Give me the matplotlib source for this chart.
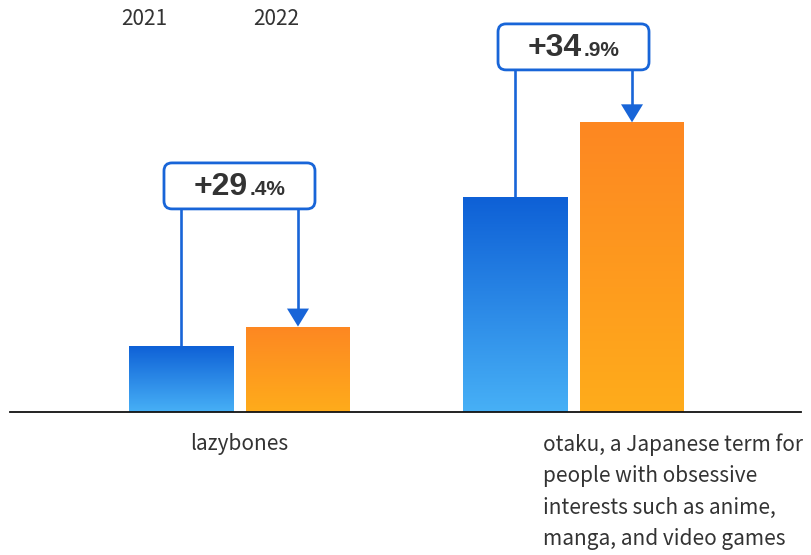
import numpy as np
import matplotlib
matplotlib.use("Agg")
import matplotlib.pyplot as plt
from matplotlib.colors import LinearSegmentedColormap
from matplotlib.patches import FancyBboxPatch, Polygon
from matplotlib.offsetbox import TextArea, HPacker, AnnotationBbox

# ---- data -------------------------------------------------------------
categories = [
    "lazybones",
    "otaku, a Japanese term for\npeople with obsessive\ninterests such as anime,\nmanga, and video games",
]
years = ["2021", "2022"]
values_2021 = [17.0, 55.3]
values_2022 = [22.0, 74.6]

# ---- styling ----------------------------------------------------------
LABEL_FONT = ["Noto Sans CJK JP", "DejaVu Sans"]
NUM_FONT = ["Liberation Sans", "DejaVu Sans"]
TEXT_COLOR = "#333333"
LINE_COLOR = "#1865d8"
blue_cmap = LinearSegmentedColormap.from_list("blue", ["#47b0f6", "#0e60d6"])
orange_cmap = LinearSegmentedColormap.from_list("orange", ["#ffac1b", "#fd8722"])

W, H = 811, 555
fig = plt.figure(figsize=(W / 100, H / 100), dpi=100)
fig.patch.set_facecolor("white")

base_px = 412  # baseline, pixels from top
ax = fig.add_axes([10 / W, (H - base_px) / H, 791 / W, base_px / H])
xlim = (-0.687, 1.681)
ylim = (0, 106.1)

# pixel <-> data conversion factors
ux = (xlim[1] - xlim[0]) / 791.0     # x units per pixel
uy = (ylim[1] - ylim[0]) / base_px   # y units per pixel

bar_w = 104 * ux
offset = 58.5 * ux
x = np.arange(len(categories))


def gradient_bars(xpos, heights, cmap):
    bars = ax.bar(xpos, heights, width=bar_w, facecolor="none",
                  edgecolor="none", zorder=2)
    grad = np.linspace(0, 1, 256).reshape(-1, 1)
    for b in bars:
        x0, w, h = b.get_x(), b.get_width(), b.get_height()
        im = ax.imshow(grad, extent=[x0, x0 + w, 0, h], origin="lower",
                       aspect="auto", cmap=cmap, zorder=2,
                       interpolation="bicubic")
        im.set_clip_path(b)
    return bars


gradient_bars(x - offset, values_2021, blue_cmap)
gradient_bars(x + offset, values_2022, orange_cmap)
ax.set_xlim(*xlim)
ax.set_ylim(*ylim)

# axes styling
for s in ["top", "right", "left"]:
    ax.spines[s].set_visible(False)
ax.spines["bottom"].set_color("#111111")
ax.spines["bottom"].set_linewidth(1.3)
ax.spines["bottom"].set_zorder(6)
ax.set_xticks([])
ax.set_yticks([])
ax.patch.set_alpha(0)

# ---- change callouts ---------------------------------------------------
callout_bottom = [52.3, 88.1]   # lower edge of each callout box (data y)
box_h = 46 * uy
pad_x = 17 * ux
lw = 1.9
head_w = 22 * ux
head_h = 18 * uy
mut_aspect = uy / ux

for i in range(len(categories)):
    xb = x[i] - offset
    xo = x[i] + offset
    v0, v1 = values_2021[i], values_2022[i]
    pct = (v1 / v0 - 1) * 100
    whole, frac = f"{pct:.1f}".split(".")
    y0 = callout_bottom[i]

    # connector from box to the 2021 bar
    ax.plot([xb, xb], [y0, v0], color=LINE_COLOR, lw=lw,
            solid_capstyle="butt", zorder=3)
    # arrow from box to the 2022 bar
    ax.plot([xo, xo], [y0, v1 + head_h * 0.9], color=LINE_COLOR, lw=lw,
            solid_capstyle="butt", zorder=3)
    ax.add_patch(Polygon([[xo - head_w / 2, v1 + head_h],
                          [xo + head_w / 2, v1 + head_h],
                          [xo, v1]], closed=True, facecolor=LINE_COLOR,
                         edgecolor="none", zorder=3))

    bx0 = xb - pad_x
    bx1 = xo + pad_x
    box = FancyBboxPatch((bx0, y0), bx1 - bx0, box_h,
                         boxstyle=f"round,pad=0,rounding_size={8 * ux}",
                         mutation_aspect=mut_aspect,
                         facecolor="white", edgecolor=LINE_COLOR,
                         linewidth=2.0, zorder=4)
    ax.add_patch(box)

    big = TextArea(f"+{whole}", textprops=dict(fontsize=23, fontweight="bold",
                                                color=TEXT_COLOR, family=NUM_FONT))
    small = TextArea(f".{frac}%", textprops=dict(fontsize=15, fontweight="bold",
                                                  color=TEXT_COLOR, family=NUM_FONT))
    pack = HPacker(children=[big, small], align="baseline", pad=0, sep=1)
    ab = AnnotationBbox(pack, ((bx0 + bx1) / 2, y0 + box_h / 2 - 1 * uy),
                        frameon=False, box_alignment=(0.5, 0.5), zorder=5)
    ax.add_artist(ab)

# ---- category labels ---------------------------------------------------
ax.text(x[0], -32 * uy, categories[0], ha="center", va="center",
        fontsize=15, color=TEXT_COLOR, family=LABEL_FONT, clip_on=False)
ax.text(x[1] - 30.5 * ux, -21 * uy, categories[1], ha="left", va="top",
        fontsize=15, color=TEXT_COLOR, family=LABEL_FONT, clip_on=False,
        linespacing=1.56)

# ---- series names ------------------------------------------------------
for name, cx in zip(years, [144, 276]):
    fig.text(cx / W, 1 - 19 / H, name, ha="center", va="center",
             fontsize=15, color=TEXT_COLOR, family=LABEL_FONT)

fig.savefig("out.png", dpi=100, facecolor="white")
